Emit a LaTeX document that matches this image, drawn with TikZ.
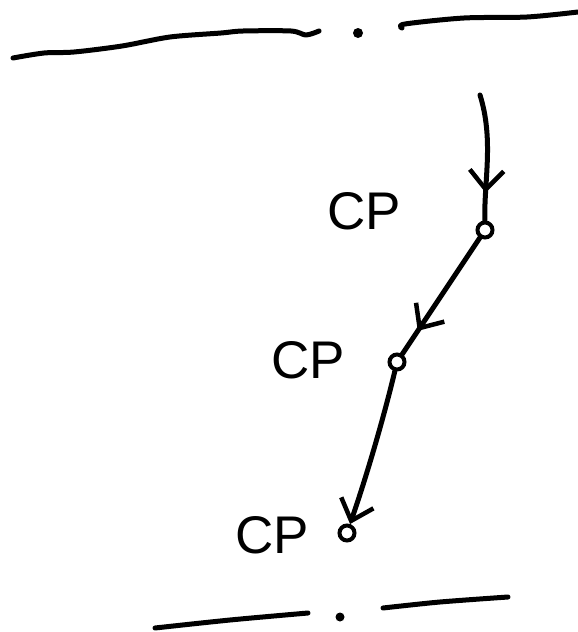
\documentclass[tikz,border=0pt]{standalone}
\usepackage{fontspec}
\setmainfont{Liberation Sans}
\usetikzlibrary{arrows.meta,decorations.markings}
\begin{document}
\begin{tikzpicture}[x=1pt,y=-1pt,
  ink/.style={line width=5pt,line cap=round,line join=round,black},
  cpnode/.style={circle,draw,line width=4pt,fill=white,inner sep=0pt,minimum size=15pt},
  lbl/.style={font=\fontsize{53}{53}\selectfont,inner sep=0pt},
  barb/.style={-{Straight Barb[length=19pt,width=34pt,line width=4.5pt]}},
  midbarb/.style={postaction={decorate},decoration={markings,
     mark=at position #1 with {\arrow{Straight Barb[length=19pt,width=34pt,line width=4.5pt]}}}}
]
\useasboundingbox (0,0) rectangle (578,632);
% top boundary
\draw[ink] plot[smooth,tension=0.5] coordinates {(13,58) (44,53) (74,52) (122,46) (170,37) (221,33) (243,31) (291,31) (306,35) (319,31)};
\fill (358,33) circle (5pt);
\draw[ink] plot[smooth,tension=0.5] coordinates {(402,28) (405,24) (464,18) (527,17) (578,12)};
% bottom boundary
\draw[ink] plot[smooth,tension=0.5] coordinates {(155,628) (230,620) (308,613)};
\fill (340,617) circle (4.5pt);
\draw[ink] plot[smooth,tension=0.5] coordinates {(383,608) (440,602) (508,597)};
% points
\coordinate (start) at (480,95);
\node[cpnode] (cp1) at (485,230) {};
\node[cpnode] (cp2) at (397,362) {};
\node[cpnode] (cp3) at (347,533) {};
% labels
\node[lbl] (l1) at (364,211) {CP};
\node[lbl] (l2) at (308,360) {CP};
\node[lbl] (l3) at (272,535) {CP};
% connectors
\draw[ink,midbarb=0.78] (start) .. controls (494,140) and (484,180) .. (cp1);
\draw[ink,midbarb=0.80] (cp1) -- (cp2);
\draw[ink,barb] (cp2) .. controls (388,400) and (372,460) .. (cp3);
\end{tikzpicture}
\end{document}
